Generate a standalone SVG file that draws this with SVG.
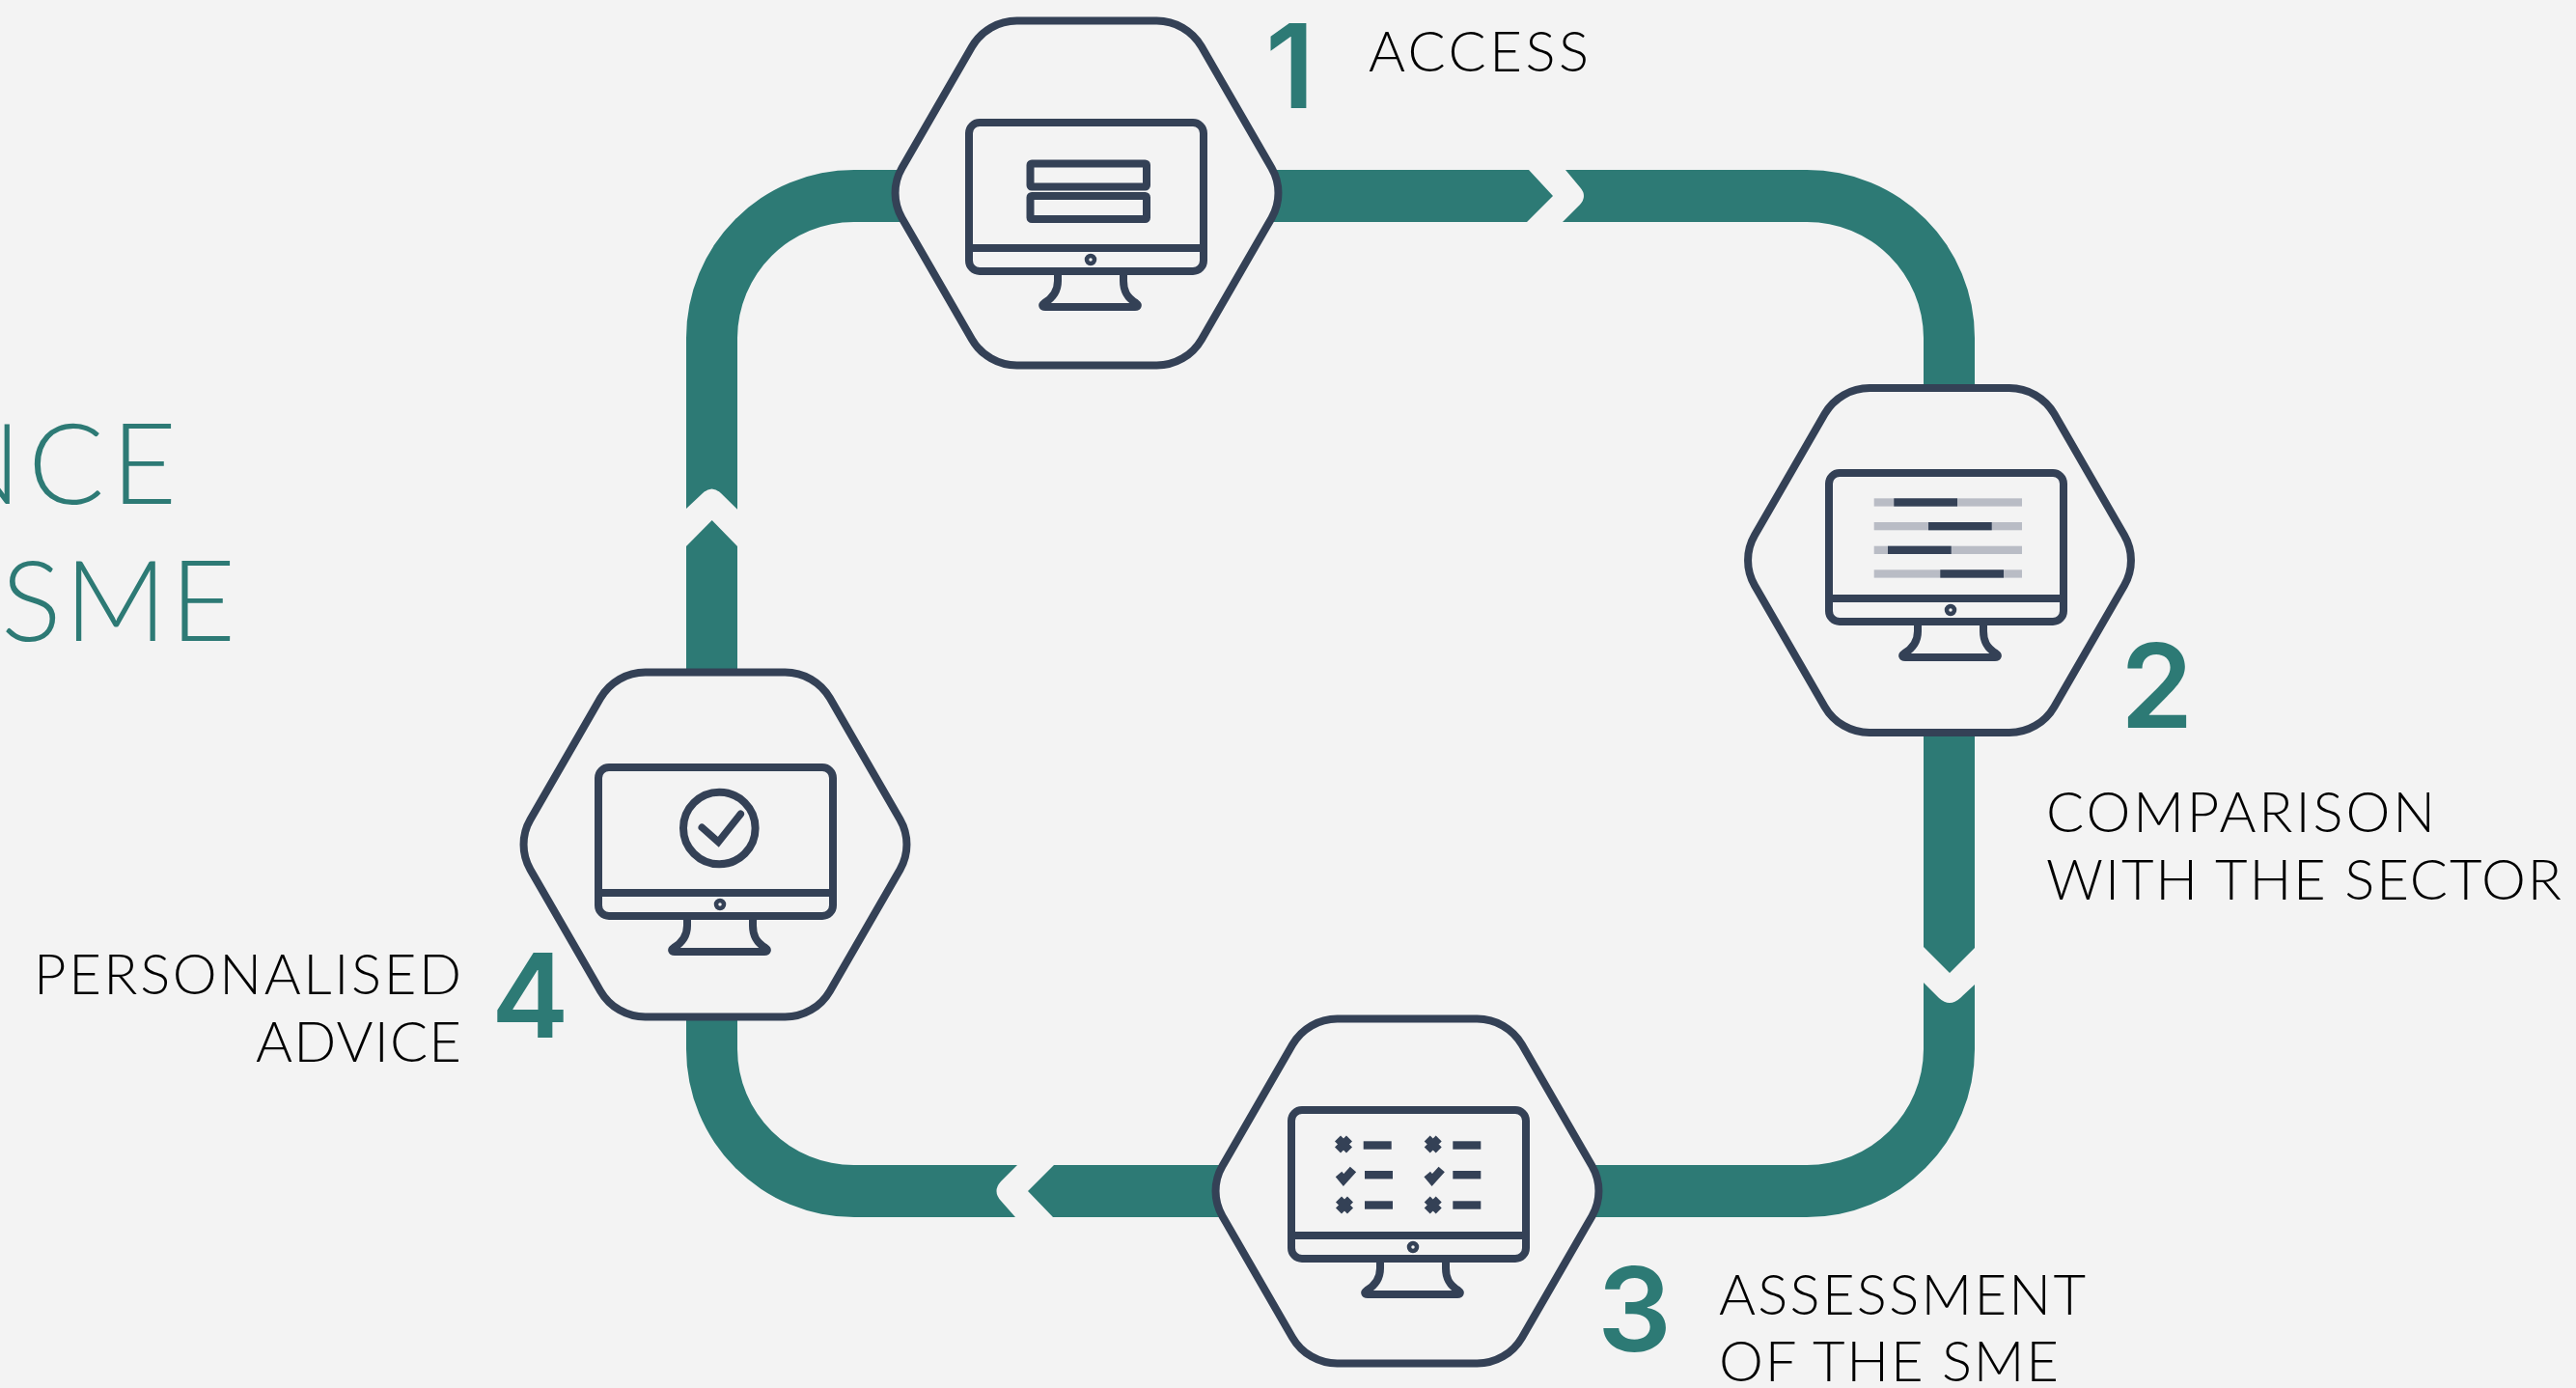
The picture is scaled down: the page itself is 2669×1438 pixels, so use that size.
<svg xmlns="http://www.w3.org/2000/svg" width="2669" height="1438" viewBox="0 0 2669 1438">
<style>
.track{fill:#2d7a75}
.hex{fill:#f3f3f3;stroke:#344156;stroke-width:8}
.mon{fill:none;stroke:#344156;stroke-width:8;stroke-linejoin:round}
.dot{fill:none;stroke:#344156;stroke-width:4.5}
.dk{fill:#344156}
.gr{fill:#b9bcc5}
.lbl{font-family:Lato,"Liberation Sans",sans-serif;font-weight:300;font-size:58px;fill:#000}
.num{font-family:Inter,"Liberation Sans",sans-serif;font-weight:600;font-size:121px;fill:#2d7a75}
.ttl{font-family:Lato,"Liberation Sans",sans-serif;font-weight:300;font-size:117px;fill:#2d7a75}
</style>
<defs>
<path id="hexShape" class="hex" d="M-72.4,-178.5H72.4A53.7,53.7 0 0 1 118.9,-151.7L191.5,-25.9A51.7,51.7 0 0 1 191.5,25.9L118.9,151.7A53.7,53.7 0 0 1 72.4,178.5H-72.4A53.7,53.7 0 0 1 -118.9,151.7L-191.5,25.9A51.7,51.7 0 0 1 -191.5,-25.9L-118.9,-151.7A53.7,53.7 0 0 1 -72.4,-178.5Z"/>
<g id="monitor">
<rect class="mon" x="4" y="4" width="243" height="154" rx="11"/>
<path class="mon" d="M4,134H247"/>
<circle class="dot" cx="130" cy="146" r="4"/>
<path class="mon" d="M96,158V168C96,178 92,185 82,191C79,193 80,195 83,195H176C179,195 180,193 177,191C167,185 164,178 164,168V158"/>
</g>
<path id="cross" class="mon" style="stroke-width:8.5;stroke-linejoin:miter" d="M-6,-6L6,6M-6,6L6,-6"/>
<path id="tick" class="mon" style="stroke-width:8.5;stroke-linejoin:miter" d="M-7,-1L-2,5L8,-6"/>
</defs>
<rect width="2669" height="1438" fill="#f3f3f3"/>
<g id="connectors">
<path class="track" d="M1622,176H1872A174,174 0 0 1 2046,350V982L2020,1008L1993,981V350A120.5,120.5 0 0 0 1872,230H1619L1637,212Q1645,203 1637,194Z"/>
<path class="track" d="M1993,1018L2009,1034Q2020,1044 2031,1034L2046,1020V1087A174,174 0 0 1 1872,1261H1091L1065,1234L1092,1207H1872A120.5,120.5 0 0 0 1993,1087Z"/>
<path class="track" d="M1054,1207L1037,1224Q1028,1234 1037,1244L1052,1261H885A174,174 0 0 1 711,1087V566L737.7,539L764,566V1087A120.5,120.5 0 0 0 885,1207Z"/>
<path class="track" d="M711,527L728,511Q737.5,502 747,511L764,527.7V350A120.5,120.5 0 0 1 885,230H1582L1609,203L1584,176H885A174,174 0 0 0 711,350Z"/>
</g>
<g id="title">
<text class="ttl" x="190" y="522" text-anchor="end" letter-spacing="7">NCE</text>
<text class="ttl" x="1" y="664" textLength="243">SME</text>
</g>
<g id="node1">
<use href="#hexShape" x="1126" y="200"/>
<use href="#monitor" x="1000" y="123"/>
<rect class="mon" x="1067.5" y="169.5" width="120.5" height="24" rx="1.5"/>
<rect class="mon" x="1067.5" y="203" width="120.5" height="24" rx="1.5"/>
<text class="num" x="1311" y="112">1</text>
<text class="lbl" x="1418" y="74" textLength="228">ACCESS</text>
</g>
<g id="node2">
<use href="#hexShape" x="2009.5" y="580.5"/>
<use href="#monitor" x="1891" y="486"/>
<rect class="gr" x="1941.7" y="516.3" width="153.3" height="8.3"/>
<rect class="gr" x="1941.7" y="541" width="153.3" height="8.3"/>
<rect class="gr" x="1941.7" y="565.7" width="153.3" height="8.3"/>
<rect class="gr" x="1941.7" y="590.3" width="153.3" height="8.3"/>
<rect class="dk" x="1962.3" y="516.3" width="65.7" height="8.3"/>
<rect class="dk" x="1998" y="541" width="65.7" height="8.3"/>
<rect class="dk" x="1956" y="565.7" width="65.7" height="8.3"/>
<rect class="dk" x="2010.3" y="590.3" width="65.7" height="8.3"/>
<text class="num" x="2197" y="754">2</text>
<text class="lbl" x="2120" y="862" textLength="403">COMPARISON</text>
<text class="lbl" x="2120" y="932" textLength="534">WITH THE SECTOR</text>
</g>
<g id="node3">
<use href="#hexShape" x="1458" y="1234"/>
<use href="#monitor" x="1334" y="1146"/>
<use href="#cross" x="1392" y="1185.5"/>
<use href="#tick" x="1394" y="1217.5"/>
<use href="#cross" x="1393" y="1248.5"/>
<use href="#cross" x="1484.7" y="1185.5"/>
<use href="#tick" x="1485.7" y="1217.5"/>
<use href="#cross" x="1484.7" y="1248.5"/>
<rect class="dk" x="1412.7" y="1182.3" width="29" height="8.4"/>
<rect class="dk" x="1414" y="1213" width="29" height="8.4"/>
<rect class="dk" x="1414" y="1244.3" width="29" height="8.4"/>
<rect class="dk" x="1505.3" y="1182.3" width="29" height="8.4"/>
<rect class="dk" x="1505.3" y="1213" width="29" height="8.4"/>
<rect class="dk" x="1505.3" y="1244.3" width="29" height="8.4"/>
<text class="num" x="1655" y="1400">3</text>
<text class="lbl" x="1781" y="1362" textLength="380">ASSESSMENT</text>
<text class="lbl" x="1781" y="1431" textLength="352">OF THE SME</text>
</g>
<g id="node4">
<use href="#hexShape" x="741" y="875"/>
<use href="#monitor" x="616" y="791"/>
<circle class="mon" cx="745.3" cy="858" r="37.3"/>
<path class="mon" style="stroke-width:7.5;stroke-linecap:round;stroke-linejoin:miter" d="M727.3,857.3L744.3,872.3L767.3,843.3"/>
<text class="num" x="509" y="1075">4</text>
<text class="lbl" x="35" y="1030" textLength="443">PERSONALISED</text>
<text class="lbl" x="265" y="1100" textLength="213">ADVICE</text>
</g>
</svg>
